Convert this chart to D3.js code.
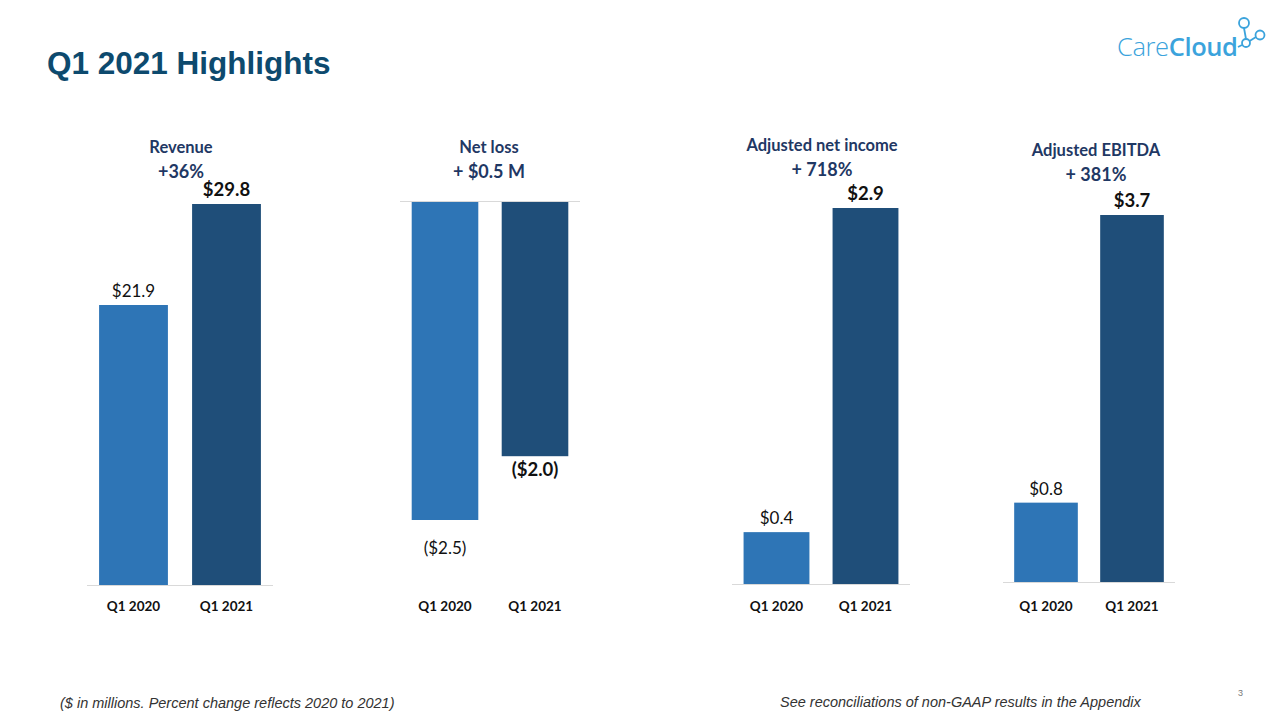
<html>
<head>
<meta charset="utf-8">
<title>Q1 2021 Highlights</title>
<script src="https://cdn.jsdelivr.net/npm/d3@7/dist/d3.min.js"></script>
<style>
    body { margin: 0; background: #fff; }
    .panel-title { font-family: Lato, "Open Sans", sans-serif; font-weight: bold; fill: #1f3864; }
    .val { font-family: Lato, "Open Sans", sans-serif; fill: #111; }
    .cat { font-family: Lato, "Open Sans", sans-serif; font-weight: bold; fill: #111; font-size: 13.5px; }
    .foot { font-family: "Liberation Sans Narrow", "Liberation Sans", Arial, sans-serif; font-style: italic; fill: #333; font-size: 14.5px; }
</style>
</head>
<body>
<script>

    var width = 1280
    var height = 720

    // data
    var panels = ["Revenue", "Net loss", "Adjusted net income", "Adjusted EBITDA"]
    var changes = ["+36%", "+ $0.5 M", "+ 718%", "+ 381%"]
    var quarters = ["Q1 2020", "Q1 2021"]
    var q2020 = [21.9, -2.5, 0.4, 0.8]
    var q2021 = [29.8, -2.0, 2.9, 3.7]
    var q2020Labels = ["$21.9", "($2.5)", "$0.4", "$0.8"]
    var q2021Labels = ["$29.8", "($2.0)", "$2.9", "$3.7"]

    // layout of each little chart on the slide
    var layout = [
        { x0: 87, x1: 273, base: 585, far: 204, tx: 181, ty: 148 },
        { x0: 400, x1: 580, base: 201, far: 520, tx: 489, ty: 148 },
        { x0: 732, x1: 910, base: 584, far: 208, tx: 822, ty: 146 },
        { x0: 1003, x1: 1175, base: 582, far: 215, tx: 1096, ty: 151 }
    ]
    var colors = ["#2e75b6", "#1f4e79"]

    var svg = d3.select("body")
        .append("svg")
        .attr("width", width)
        .attr("height", height)

    // slide title
    svg.append("text")
        .attr("x", 47)
        .attr("y", 74)
        .attr("font-family", "'Liberation Sans', Arial, sans-serif")
        .attr("font-weight", "bold")
        .attr("font-size", "31.5px")
        .attr("fill", "#0d4a6e")
        .text("Q1 2021 Highlights")

    // logo
    var logo = svg.append("g")
    var logoText = logo.append("text")
        .attr("x", 1117)
        .attr("y", 56)
        .attr("font-family", "'Open Sans', sans-serif")
        .attr("font-size", "25.5px")
        .attr("fill", "#3ba3dc")
        .attr("letter-spacing", "-0.4px")
    logoText.append("tspan").attr("font-weight", "300").text("Care")
    logoText.append("tspan").attr("font-weight", "600").text("Cloud")
    var nodes = [[1244, 23, 5], [1260, 35, 4.5], [1246, 43, 4]]
    logo.append("path")
        .attr("d", "M1244,28 L1246,39 M1248,42 L1256,37 M1242,45 L1238,47")
        .attr("stroke", "#3ba3dc")
        .attr("stroke-width", 1.8)
        .attr("fill", "none")
    nodes.forEach(function (n) {
        logo.append("circle")
            .attr("cx", n[0]).attr("cy", n[1]).attr("r", n[2])
            .attr("fill", "#fff")
            .attr("stroke", "#3ba3dc")
            .attr("stroke-width", 1.8)
    })

    panels.forEach(function (name, i) {
        var L = layout[i]
        var vals = [q2020[i], q2021[i]]
        var labs = [q2020Labels[i], q2021Labels[i]]
        var extreme = Math.abs(q2020[i]) > Math.abs(q2021[i]) ? q2020[i] : q2021[i]

        var x = d3.scaleBand()
            .domain(quarters)
            .range([L.x0, L.x1])
            .paddingInner(0.26)
            .paddingOuter(0.13)

        var y = d3.scaleLinear()
            .domain([0, extreme])
            .range([L.base, L.far])

        var g = svg.append("g")

        // titles
        g.append("text")
            .attr("class", "panel-title")
            .attr("x", L.tx)
            .attr("y", L.ty + 5)
            .attr("text-anchor", "middle")
            .attr("font-size", "16.5px")
            .text(name)
        g.append("text")
            .attr("class", "panel-title")
            .attr("x", L.tx)
            .attr("y", L.ty + 30)
            .attr("text-anchor", "middle")
            .attr("font-size", "18px")
            .text(changes[i])

        // bars
        g.selectAll("rect")
            .data(vals)
            .enter()
            .append("rect")
            .attr("x", function (d, j) { return x(quarters[j]) })
            .attr("width", x.bandwidth())
            .attr("y", function (d) { return Math.min(y(0), y(d)) })
            .attr("height", function (d) { return Math.abs(y(d) - y(0)) })
            .attr("fill", function (d, j) { return colors[j] })

        // zero line
        g.append("line")
            .attr("x1", L.x0).attr("x2", L.x1)
            .attr("y1", y(0) + 0.5).attr("y2", y(0) + 0.5)
            .attr("stroke", "#d9d9d9")
            .attr("stroke-width", 1)

        // value labels
        g.selectAll(".val")
            .data(vals)
            .enter()
            .append("text")
            .attr("class", "val")
            .attr("x", function (d, j) { return x(quarters[j]) + x.bandwidth() / 2 })
            .attr("y", function (d, j) {
                if (d >= 0) return y(d) - 8
                return y(d) + (j == 0 ? 34 : 20)
            })
            .attr("text-anchor", "middle")
            .attr("font-size", function (d, j) { return j == 1 ? "18.5px" : "17px" })
            .attr("font-weight", function (d, j) { return j == 1 ? "bold" : "normal" })
            .text(function (d, j) { return labs[j] })

        // category labels
        g.selectAll(".cat")
            .data(quarters)
            .enter()
            .append("text")
            .attr("class", "cat")
            .attr("x", function (d) { return x(d) + x.bandwidth() / 2 })
            .attr("y", 611)
            .attr("text-anchor", "middle")
            .text(function (d) { return d })
    })

    // footer
    svg.append("text")
        .attr("class", "foot")
        .attr("x", 60)
        .attr("y", 708)
        .text("($ in millions. Percent change reflects 2020 to 2021)")
    svg.append("text")
        .attr("class", "foot")
        .attr("x", 780)
        .attr("y", 707)
        .text("See reconciliations of non-GAAP results in the Appendix")
    svg.append("text")
        .attr("x", 1238)
        .attr("y", 696)
        .attr("font-family", "'Liberation Sans', Arial, sans-serif")
        .attr("font-size", "9px")
        .attr("fill", "#777")
        .text("3")

</script>
</body>
</html>
